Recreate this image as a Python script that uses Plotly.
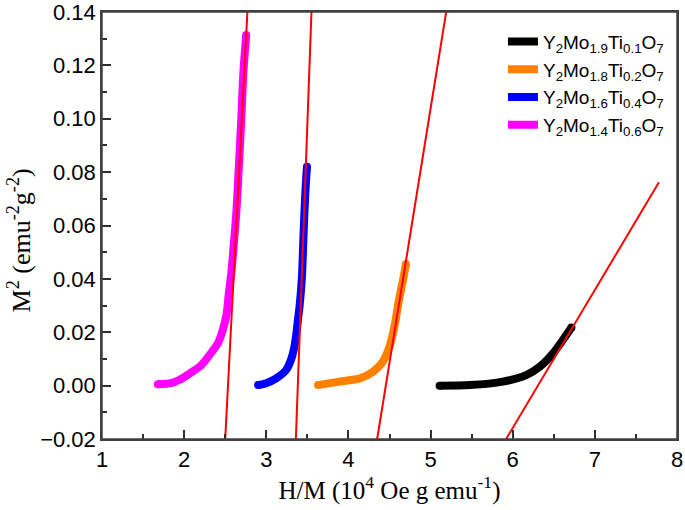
import plotly.graph_objects as go

# ---- data ----
names = [
    "Y<sub>2</sub>Mo<sub>1.9</sub>Ti<sub>0.1</sub>O<sub>7</sub>",
    "Y<sub>2</sub>Mo<sub>1.8</sub>Ti<sub>0.2</sub>O<sub>7</sub>",
    "Y<sub>2</sub>Mo<sub>1.6</sub>Ti<sub>0.4</sub>O<sub>7</sub>",
    "Y<sub>2</sub>Mo<sub>1.4</sub>Ti<sub>0.6</sub>O<sub>7</sub>",
]
colors = ["#000000", "#FF8000", "#0000FF", "#FF00FF"]

x_mo19 = [5.11, 5.48, 5.88, 6.17, 6.33, 6.49, 6.61, 6.715]
y_mo19 = [0.0000, 0.0002, 0.0015, 0.0040, 0.0071, 0.0121, 0.0171, 0.0218]

x_mo18 = [3.63, 3.89, 4.14, 4.30, 4.42, 4.50, 4.56, 4.615, 4.665, 4.70]
y_mo18 = [0.0002, 0.0015, 0.0027, 0.0052, 0.0090, 0.0146, 0.0221, 0.0321, 0.0396, 0.0456]

x_mo16 = [2.90, 3.00, 3.12, 3.24, 3.30, 3.335, 3.362, 3.385, 3.406, 3.434, 3.454, 3.475, 3.495]
y_mo16 = [0.0002, 0.0009, 0.0027, 0.0058, 0.0096, 0.0135, 0.0185, 0.0246, 0.0300, 0.0408, 0.0571, 0.0720, 0.0820]

x_mo14 = [1.68, 1.84, 1.94, 2.07, 2.21, 2.31, 2.41, 2.47, 2.515, 2.544, 2.574, 2.602, 2.635, 2.666, 2.695, 2.723, 2.756]
y_mo14 = [0.0005, 0.0009, 0.0021, 0.0046, 0.0077, 0.0115, 0.0158, 0.0208, 0.0265, 0.0346, 0.0421, 0.0520, 0.0646, 0.0820, 0.0995, 0.1182, 0.1314]

# linear fits (red lines): end points
fit_x = [[5.92, 7.78], [4.35, 5.19], [3.36, 3.55], [2.50, 2.77]]
fit_y = [[-0.02, 0.0762], [-0.02, 0.14], [-0.02, 0.14], [-0.02, 0.14]]

xs = [x_mo19, x_mo18, x_mo16, x_mo14]
ys = [y_mo19, y_mo18, y_mo16, y_mo14]

x_ticks = [1, 2, 3, 4, 5, 6, 7, 8]
y_ticks = [-0.02, 0.00, 0.02, 0.04, 0.06, 0.08, 0.10, 0.12, 0.14]

x_title = "H/M (10<sup>4</sup> Oe g emu<sup>-1</sup>)"
y_title = "M<sup>2</sup> (emu<sup>-2</sup>g<sup>-2</sup>)"

fig = go.Figure()

for i in range(4):
    fig.add_trace(go.Scatter(
        x=xs[i], y=ys[i], mode="lines", name=names[i],
        line=dict(color=colors[i], width=8, shape="spline", smoothing=0.8),
    ))
    # round end caps
    fig.add_trace(go.Scatter(
        x=[xs[i][0], xs[i][-1]], y=[ys[i][0], ys[i][-1]], mode="markers",
        marker=dict(color=colors[i], size=8, line=dict(width=0)),
        showlegend=False, hoverinfo="skip",
    ))

for i in range(4):
    fig.add_trace(go.Scatter(
        x=fit_x[i], y=fit_y[i], mode="lines",
        line=dict(color="#FF0000", width=2),
        showlegend=False, hoverinfo="skip",
    ))

axis_common = dict(
    showline=True, linecolor="#404040", linewidth=1.5, mirror=True,
    ticks="inside", ticklen=9, tickwidth=1.5, tickcolor="#303030",
    showgrid=False, zeroline=False, automargin=False,
    ticklabeloverflow="allow",
    tickfont=dict(family="Liberation Sans, Arial", size=22, color="#000"),
)

fig.update_layout(
    width=685, height=510,
    margin=dict(l=102, r=8, t=12, b=71),
    paper_bgcolor="white", plot_bgcolor="white",
    xaxis=dict(
        range=[1, 8], tickvals=x_ticks,
        minor=dict(ticks="inside", ticklen=5, dtick=0.5, tickwidth=1.5, tickcolor="#303030"),
        title=dict(text=x_title,
                   font=dict(family="Liberation Serif, Times New Roman", size=25, color="#000"),
                   standoff=4),
        **axis_common,
    ),
    yaxis=dict(
        range=[-0.02, 0.14], tickvals=y_ticks, tickformat=".2f",
        minor=dict(ticks="inside", ticklen=5, dtick=0.01, tickwidth=1.5, tickcolor="#303030"),
        **axis_common,
    ),
    shapes=[dict(type="rect", xref="paper", yref="paper", x0=0, x1=1, y0=0, y1=1,
                 line=dict(color="#404040", width=1.5), layer="above")],
    annotations=[dict(
        text=y_title, textangle=-90, xref="paper", yref="paper",
        x=-0.1436, y=0.466, xanchor="center", yanchor="middle", showarrow=False,
        font=dict(family="Liberation Serif, Times New Roman", size=26, color="#000"),
    )],
    legend=dict(
        x=0.986, xanchor="right", y=0.975, yanchor="top",
        bgcolor="rgba(0,0,0,0)", borderwidth=0,
        font=dict(family="Liberation Sans, Arial", size=19, color="#000"),
        tracegroupgap=0, itemwidth=30,
    ),
    showlegend=True,
)

fig.write_html("out.html", config={"displayModeBar": False},
               post_script="document.body.style.margin='0';")
